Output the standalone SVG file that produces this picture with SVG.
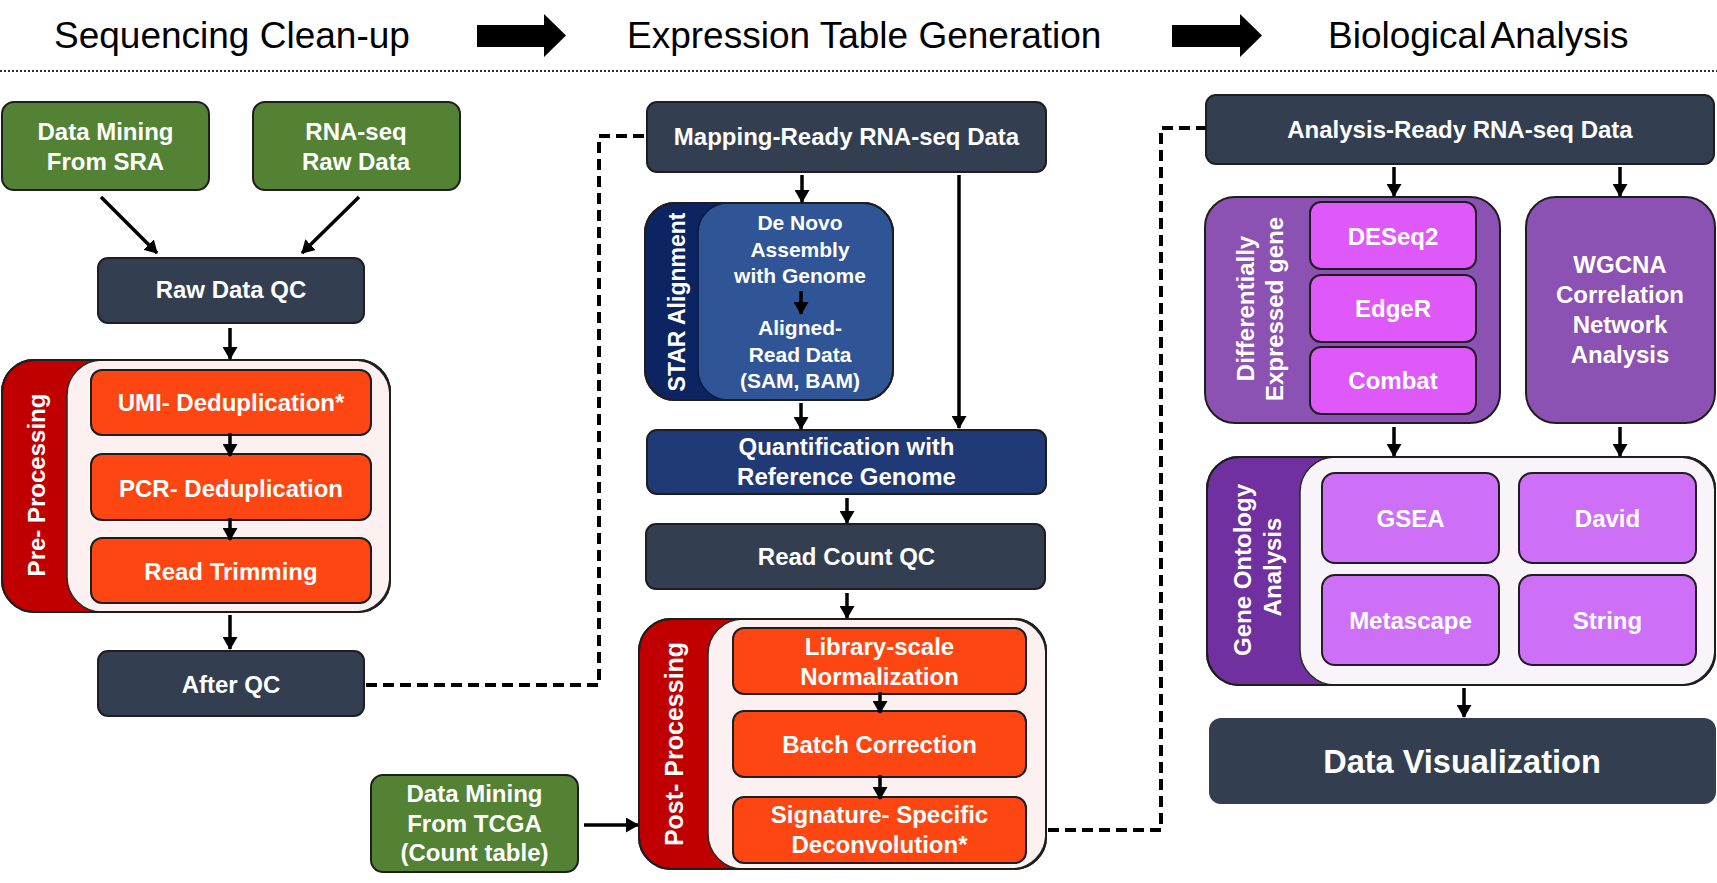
<svg xmlns="http://www.w3.org/2000/svg" width="1717" height="883" viewBox="0 0 1717 883">
<defs>
<marker id="ah" viewBox="0 0 13 15" refX="12" refY="7.5" markerWidth="13" markerHeight="15" markerUnits="userSpaceOnUse" orient="auto">
<path d="M0,0 L13,7.5 L0,15 z" fill="#000"/>
</marker>
</defs>
<style>
.ttl{font-family:"Liberation Sans",Arial,sans-serif;font-size:37px;fill:#000}
.t{font-family:"Liberation Sans",Arial,sans-serif;font-weight:bold;font-size:24px;fill:#fff;text-anchor:middle}
.s{font-size:21px}
.box{stroke:#1e1e1e;stroke-width:2}
.dark{fill:#333f50}
.green{fill:#548235}
.orange{fill:#fd4611}
.red{fill:#c00000}
.pink{fill:#fcf1f0}
.navy{fill:#0c2461}
.blue{fill:#2f5597}
.qblue{fill:#1f3a76}
.purple{fill:#8c52b3}
.deep{fill:#7030a0}
.mag{fill:#df58fa}
.vio{fill:#cd70f7}
.lav{fill:#f8f4fa}
.c{stroke:#000;stroke-width:3.5;fill:none;marker-end:url(#ah)}
.d{stroke:#000;stroke-width:4;fill:none;stroke-dasharray:11 6}
</style>
<rect width="1717" height="883" fill="#fff"/>

<g id="header">
<text class="ttl" x="54" y="48">Sequencing Clean-up</text>
<polygon points="477,25 544,25 544,14 566,35.5 544,57 544,47 477,47" fill="#000"/>
<text class="ttl" x="627" y="48">Expression Table Generation</text>
<polygon points="1172,25 1240,25 1240,14 1262,35.5 1240,57 1240,47 1172,47" fill="#000"/>
<text class="ttl" x="1328" y="48" word-spacing="-4">Biological Analysis</text>
<line x1="0" y1="71" x2="1717" y2="71" stroke="#333" stroke-width="2" stroke-dasharray="2 2"/>
</g>

<g id="sra">
<rect class="box green" x="2" y="102" width="207" height="88" rx="12"/>
<text class="t" x="105.5" y="140">Data Mining</text>
<text class="t" x="105.5" y="170">From SRA</text>
</g>
<g id="rnaseq">
<rect class="box green" x="253" y="102" width="207" height="88" rx="12"/>
<text class="t" x="356" y="140">RNA-seq</text>
<text class="t" x="356" y="170">Raw Data</text>
</g>
<g id="rawqc">
<rect class="box dark" x="98" y="258" width="266" height="65" rx="10"/>
<text class="t" x="231" y="298">Raw Data QC</text>
</g>
<g id="preprocessing">
<rect class="box red" x="2" y="360" width="388" height="252" rx="32"/>
<rect class="pink" x="67" y="360" width="323" height="252" rx="35" stroke="#2a2a2a" stroke-width="1.5"/>
<rect x="2" y="360" width="388" height="252" rx="32" fill="none" stroke="#1e1e1e" stroke-width="2"/>
<text class="t" transform="translate(45,485) rotate(-90)">Pre- Processing</text>
</g>
<g id="umi">
<rect class="box orange" x="91" y="370" width="280" height="65" rx="11"/>
<text class="t" x="231" y="410.5">UMI- Deduplication*</text>
</g>
<g id="pcr">
<rect class="box orange" x="91" y="454" width="280" height="66" rx="11"/>
<text class="t" x="231" y="496.5">PCR- Deduplication</text>
</g>
<g id="trim">
<rect class="box orange" x="91" y="538" width="280" height="65" rx="11"/>
<text class="t" x="231" y="580">Read Trimming</text>
</g>
<g id="afterqc">
<rect class="box dark" x="98" y="651" width="266" height="65" rx="10"/>
<text class="t" x="231" y="693">After QC</text>
</g>
<g id="tcga">
<rect class="box green" x="371" y="775" width="207" height="97" rx="12"/>
<text class="t" x="474.5" y="802">Data Mining</text>
<text class="t" x="474.5" y="832">From TCGA</text>
<text class="t" x="474.5" y="861">(Count table)</text>
</g>

<g id="mapping">
<rect class="box dark" x="647" y="102" width="399" height="70" rx="10"/>
<text class="t" x="846.5" y="145">Mapping-Ready RNA-seq Data</text>
</g>
<g id="star">
<rect class="box navy" x="645" y="203" width="248" height="197" rx="30"/>
<rect class="blue" x="698" y="203" width="195" height="197" rx="30" stroke="#0a1a40" stroke-width="1.5"/>
<rect x="645" y="203" width="248" height="197" rx="30" fill="none" stroke="#1e1e1e" stroke-width="2"/>
<text class="t" style="font-size:23px" transform="translate(685,302) rotate(-90)">STAR Alignment</text>
<text class="t s" x="800" y="230">De Novo</text>
<text class="t s" x="800" y="256.5">Assembly</text>
<text class="t s" x="800" y="283">with Genome</text>
<text class="t s" x="800" y="335">Aligned-</text>
<text class="t s" x="800" y="361.5">Read Data</text>
<text class="t s" x="800" y="388">(SAM, BAM)</text>
</g>
<g id="quant">
<rect class="box qblue" x="647" y="430" width="399" height="64" rx="10"/>
<text class="t" x="846.5" y="455">Quantification with</text>
<text class="t" x="846.5" y="485">Reference Genome</text>
</g>
<g id="readcount">
<rect class="box dark" x="646" y="524" width="399" height="65" rx="10"/>
<text class="t" x="846.5" y="565">Read Count QC</text>
</g>
<g id="postprocessing">
<rect class="box red" x="639" y="619" width="407" height="250" rx="32"/>
<rect class="pink" x="708" y="619" width="338" height="250" rx="35" stroke="#2a2a2a" stroke-width="1.5"/>
<rect x="639" y="619" width="407" height="250" rx="32" fill="none" stroke="#1e1e1e" stroke-width="2"/>
<text class="t" style="font-size:25px" transform="translate(683,744) rotate(-90)">Post- Processing</text>
</g>
<g id="library">
<rect class="box orange" x="733" y="628" width="293" height="66" rx="11"/>
<text class="t" x="879.5" y="655">Library-scale</text>
<text class="t" x="879.5" y="685">Normalization</text>
</g>
<g id="batch">
<rect class="box orange" x="733" y="711" width="293" height="66" rx="11"/>
<text class="t" x="879.5" y="752.5">Batch Correction</text>
</g>
<g id="signature">
<rect class="box orange" x="733" y="797" width="293" height="66" rx="11"/>
<text class="t" x="879.5" y="823">Signature- Specific</text>
<text class="t" x="879.5" y="853">Deconvolution*</text>
</g>

<g id="analysisready">
<rect class="box dark" x="1206" y="95" width="508" height="69" rx="10"/>
<text class="t" x="1460" y="138">Analysis-Ready RNA-seq Data</text>
</g>
<g id="deg">
<rect class="box purple" x="1205" y="197" width="295" height="226" rx="30"/>
<text class="t" transform="translate(1254,308.5) rotate(-90)">Differentially</text>
<text class="t" transform="translate(1283,309) rotate(-90)">Expressed gene</text>
</g>
<g id="deseq2">
<rect class="box mag" x="1310" y="202" width="166" height="67" rx="11"/>
<text class="t" x="1393" y="245">DESeq2</text>
</g>
<g id="edger">
<rect class="box mag" x="1310" y="275" width="166" height="67" rx="11"/>
<text class="t" x="1393" y="316.5">EdgeR</text>
</g>
<g id="combat">
<rect class="box mag" x="1310" y="347" width="166" height="67" rx="11"/>
<text class="t" x="1393" y="389">Combat</text>
</g>
<g id="wgcna">
<rect class="box purple" x="1526" y="197" width="189" height="226" rx="30"/>
<text class="t" x="1620" y="273">WGCNA</text>
<text class="t" x="1620" y="303">Correlation</text>
<text class="t" x="1620" y="333">Network</text>
<text class="t" x="1620" y="363">Analysis</text>
</g>
<g id="geneontology">
<rect class="box deep" x="1207" y="457" width="508" height="228" rx="32"/>
<rect class="lav" x="1300" y="457" width="415" height="228" rx="35" stroke="#2a2a2a" stroke-width="1.5"/>
<rect x="1207" y="457" width="508" height="228" rx="32" fill="none" stroke="#1e1e1e" stroke-width="2"/>
<text class="t" transform="translate(1251,570) rotate(-90)">Gene Ontology</text>
<text class="t" transform="translate(1281,567) rotate(-90)">Analysis</text>
</g>
<g id="gsea">
<rect class="box vio" x="1322" y="473" width="177" height="90" rx="13"/>
<text class="t" x="1410.5" y="526.5">GSEA</text>
</g>
<g id="david">
<rect class="box vio" x="1519" y="473" width="177" height="90" rx="13"/>
<text class="t" x="1607.5" y="526.5">David</text>
</g>
<g id="metascape">
<rect class="box vio" x="1322" y="575" width="177" height="90" rx="13"/>
<text class="t" x="1410.5" y="629">Metascape</text>
</g>
<g id="string">
<rect class="box vio" x="1519" y="575" width="177" height="90" rx="13"/>
<text class="t" x="1607.5" y="629">String</text>
</g>
<g id="datavis">
<rect class="dark" x="1209" y="718" width="507" height="86" rx="12"/>
<text class="t" style="font-size:32.5px" x="1462" y="773">Data Visualization</text>
</g>

<g id="connectors">
<line class="c" x1="101" y1="197" x2="157" y2="253"/>
<line class="c" x1="359" y1="197" x2="302" y2="253"/>
<line class="c" x1="230" y1="328" x2="230" y2="359"/>
<line class="c" x1="230" y1="433" x2="230" y2="456"/>
<line class="c" x1="230" y1="518" x2="230" y2="540"/>
<line class="c" x1="230" y1="615" x2="230" y2="649"/>
<path class="d" d="M366,685 H599 V136 H647"/>
<line class="c" x1="584" y1="825" x2="638" y2="825"/>
<line class="c" x1="802" y1="175" x2="802" y2="202"/>
<line class="c" x1="959" y1="175" x2="959" y2="428"/>
<line class="c" x1="801" y1="291" x2="801" y2="314"/>
<line class="c" x1="801" y1="403" x2="801" y2="429"/>
<line class="c" x1="847" y1="498" x2="847" y2="523"/>
<line class="c" x1="847" y1="593" x2="847" y2="618"/>
<line class="c" x1="880" y1="692" x2="880" y2="713"/>
<line class="c" x1="880" y1="775" x2="880" y2="799"/>
<path class="d" d="M1048,830 H1161 V128 H1206"/>
<line class="c" x1="1394" y1="167" x2="1394" y2="196"/>
<line class="c" x1="1620" y1="167" x2="1620" y2="196"/>
<line class="c" x1="1394" y1="427" x2="1394" y2="456"/>
<line class="c" x1="1620" y1="427" x2="1620" y2="456"/>
<line class="c" x1="1464" y1="688" x2="1464" y2="717"/>
</g>
</svg>
